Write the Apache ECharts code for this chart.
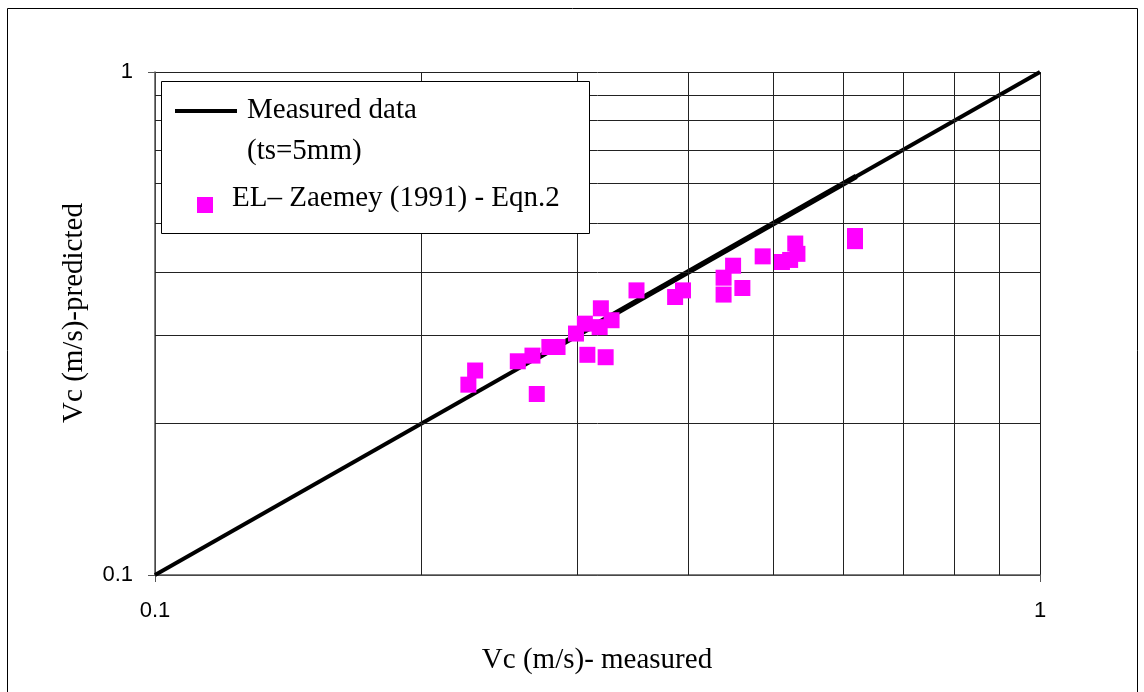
<!DOCTYPE html>
<html>
<head>
<meta charset="utf-8">
<script src="https://cdn.jsdelivr.net/npm/echarts@6/dist/echarts.min.js"></script>
<style>
  html, body { margin: 0; padding: 0; background: #fff; }
  #chart { width: 1144px; height: 692px; }
</style>
</head>
<body>
<div id="chart"></div>
<script>
// equality line and the thicker measured stretch
const lineX = [0.1, 1];
const thickX = [0.27, 0.62];
// minor log grid values
const gridValues = [0.2, 0.3, 0.4, 0.5, 0.6, 0.7, 0.8, 0.9];
// EL-Zaemey (1991) Eqn.2 points
const measured = [0.230, 0.226, 0.270, 0.257, 0.267, 0.279, 0.285, 0.299, 0.306, 0.319, 0.318, 0.328, 0.308, 0.323,
  0.350, 0.387, 0.395, 0.439, 0.439, 0.450, 0.461, 0.486, 0.511, 0.522, 0.529, 0.532, 0.618, 0.618];
const predicted = [0.255, 0.239, 0.229, 0.266, 0.273, 0.284, 0.284, 0.302, 0.316, 0.339, 0.311, 0.321, 0.274, 0.271,
  0.368, 0.357, 0.368, 0.361, 0.390, 0.412, 0.372, 0.430, 0.419, 0.423, 0.456, 0.435, 0.472, 0.461];

const serif = 'Liberation Serif';
const sans = 'Liberation Sans';
const titleFont = '29px "' + serif + '"';

const chart = echarts.init(document.getElementById('chart'));

const gridLines = [];
gridValues.forEach(v => {
  gridLines.push({ xAxis: v });
  gridLines.push({ yAxis: v });
});

const axisCommon = {
  type: 'log',
  logBase: 10,
  min: 0.1,
  max: 1,
  axisLine: { show: true, lineStyle: { color: '#555', width: 1.5 } },
  axisTick: { show: true, length: 7, lineStyle: { color: '#555' } },
  splitLine: { show: true, lineStyle: { color: '#222', width: 1 } },
  axisLabel: { fontFamily: sans, fontSize: 22, color: '#000' }
};

chart.setOption({
  animation: false,
  grid: { left: 155, top: 72, width: 885, height: 503 },
  xAxis: Object.assign({}, axisCommon, {
    axisLabel: Object.assign({}, axisCommon.axisLabel, { margin: 25 })
  }),
  yAxis: Object.assign({}, axisCommon, {
    axisLabel: Object.assign({}, axisCommon.axisLabel, { margin: 22 })
  }),
  series: [
    {
      type: 'line',
      data: lineX.map(v => [v, v]),
      symbol: 'none',
      lineStyle: { color: '#000', width: 4 },
      z: 3,
      markLine: {
        silent: true,
        symbol: 'none',
        label: { show: false },
        lineStyle: { color: '#222', width: 1, type: 'solid' },
        data: gridLines
      }
    },
    {
      type: 'line',
      data: thickX.map(v => [v, v]),
      symbol: 'none',
      lineStyle: { color: '#000', width: 5.5 },
      z: 3
    },
    {
      type: 'scatter',
      data: measured.map((m, i) => [m, predicted[i]]),
      symbol: 'rect',
      symbolSize: 16,
      itemStyle: { color: '#ff00ff', opacity: 1 },
      z: 5
    }
  ],
  graphic: [
    {
      type: 'rect',
      shape: { x: 7.5, y: 8.5, width: 1130, height: 720 },
      style: { fill: 'none', stroke: '#000', lineWidth: 1 },
      silent: true
    },
    {
      type: 'rect',
      shape: { x: 161.5, y: 81.5, width: 428, height: 152 },
      style: { fill: '#fff', stroke: '#000', lineWidth: 1 },
      z: 10
    },
    {
      type: 'line',
      shape: { x1: 175, y1: 111, x2: 237, y2: 111 },
      style: { stroke: '#000', lineWidth: 4 },
      z: 11
    },
    {
      type: 'text',
      x: 247, y: 110,
      style: { text: 'Measured data', font: titleFont, fill: '#000', verticalAlign: 'middle' },
      z: 11
    },
    {
      type: 'text',
      x: 247, y: 151,
      style: { text: '(ts=5mm)', font: titleFont, fill: '#000', verticalAlign: 'middle' },
      z: 11
    },
    {
      type: 'rect',
      shape: { x: 197, y: 197, width: 16, height: 16 },
      style: { fill: '#ff00ff' },
      z: 11
    },
    {
      type: 'text',
      x: 232, y: 198,
      style: { text: 'EL\u2013 Zaemey (1991) - Eqn.2', font: titleFont, fill: '#000', verticalAlign: 'middle' },
      z: 11
    },
    {
      type: 'text',
      x: 597, y: 660,
      style: { text: 'Vc (m/s)- measured', font: titleFont, fill: '#000', align: 'center', verticalAlign: 'middle' }
    },
    {
      type: 'text',
      x: 74, y: 313,
      rotation: Math.PI / 2,
      style: { text: 'Vc (m/s)-predicted', font: titleFont, fill: '#000', align: 'center', verticalAlign: 'middle' }
    }
  ]
});
</script>
</body>
</html>
